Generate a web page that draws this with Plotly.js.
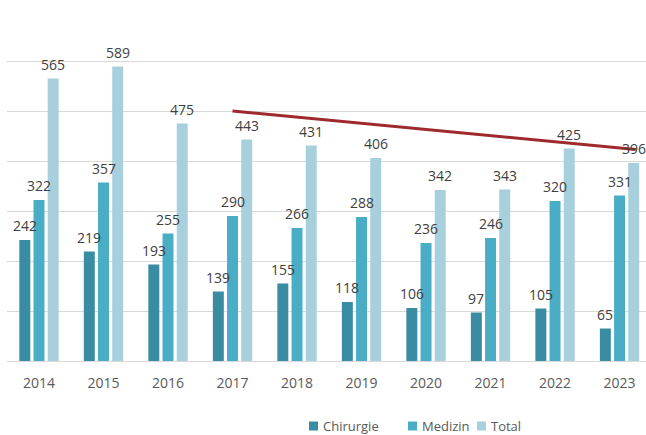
<!DOCTYPE html>
<html>
<head>
<meta charset="utf-8">
<script src="https://cdn.plot.ly/plotly-3.0.1.min.js"></script>
<style>html,body{margin:0;padding:0;background:#fff;}#chart{width:646px;height:435px;}</style>
</head>
<body>
<div id="chart"></div>
<script>
const years = ["2014","2015","2016","2017","2018","2019","2020","2021","2022","2023"];
const chirurgie = [242, 219, 193, 139, 155, 118, 106, 97, 105, 65];
const medizin = [322, 357, 255, 290, 266, 288, 236, 246, 320, 331];
const total = [565, 589, 475, 443, 431, 406, 342, 343, 425, 396];
const seriesNames = ["Chirurgie", "Medizin", "Total"];
const seriesColors = ["#3A8CA3", "#4AADC6", "#A8CFDC"];
// trendline endpoints
const trendX = [3, 9.25];
const trendY = [500, 423];

const idx = years.map((_, i) => i);
const seriesValues = [chirurgie, medizin, total];
const offsets = [-0.305, -0.085, 0.135];
const barW = 0.17;

const M = {l: 7, r: 0, t: 11, b: 74};
const W = 646, H = 435;
const pw = W - M.l - M.r, ph = H - M.t - M.b;
const px2x = p => (p - M.l) / pw;
const px2y = p => (H - M.b - p) / ph;

const traces = seriesValues.map((vals, k) => ({
  type: 'bar',
  name: seriesNames[k],
  x: idx,
  y: vals,
  width: barW,
  offset: offsets[k],
  marker: {color: seriesColors[k], line: {width: 0}},
  hoverinfo: 'x+y'
}));

traces.push({
  type: 'scatter',
  mode: 'lines',
  x: trendX,
  y: trendY,
  line: {color: '#9E2A2E', width: 3},
  showlegend: false,
  hoverinfo: 'skip',
  cliponaxis: false
});

const labelAnns = [];
seriesValues.forEach((vals, k) => {
  vals.forEach((v, i) => {
    labelAnns.push({
      xref: 'x', yref: 'y',
      x: idx[i] + offsets[k] + barW / 2,
      y: v,
      yanchor: 'bottom', xanchor: 'center',
      yshift: 3,
      text: String(v),
      showarrow: false,
      font: {family: 'Open Sans, sans-serif', size: 14, color: '#404040'}
    });
  });
});

// custom legend (positions in pixels)
const legendSquareX = [309, 408, 477];
const legendY = 426;
const sq = 9;
const legendShapes = seriesNames.map((n, k) => ({
  type: 'rect', xref: 'paper', yref: 'paper',
  x0: px2x(legendSquareX[k]), x1: px2x(legendSquareX[k] + sq),
  y0: px2y(legendY + sq / 2), y1: px2y(legendY - sq / 2),
  fillcolor: seriesColors[k], line: {width: 0}
}));
const legendAnns = seriesNames.map((n, k) => ({
  xref: 'paper', yref: 'paper',
  x: px2x(legendSquareX[k] + sq + 3), y: px2y(legendY),
  xanchor: 'left', yanchor: 'middle',
  text: n, showarrow: false,
  font: {family: 'Open Sans, sans-serif', size: 13, color: '#595959'}
}));

const layout = {
  width: W, height: H,
  margin: M,
  paper_bgcolor: '#ffffff', plot_bgcolor: '#ffffff',
  barmode: 'group',
  showlegend: false,
  font: {family: 'Open Sans, sans-serif', size: 14, color: '#595959'},
  xaxis: {
    type: 'linear',
    range: [-0.496, 9.41],
    tickvals: idx,
    ticktext: years,
    showgrid: false,
    zeroline: false,
    showline: false,
    ticks: '',
    ticklabelstandoff: 12,
    tickfont: {size: 14, color: '#595959'},
    fixedrange: true
  },
  yaxis: {
    range: [0, 700],
    dtick: 100,
    showticklabels: false,
    showgrid: true,
    gridcolor: '#D9D9D9',
    gridwidth: 1,
    zeroline: true,
    zerolinecolor: '#D9D9D9',
    zerolinewidth: 1,
    showline: false,
    ticks: '',
    fixedrange: true
  },
  shapes: legendShapes,
  annotations: labelAnns.concat(legendAnns)
};

Plotly.newPlot('chart', traces, layout, {displayModeBar: false, staticPlot: true});
</script>
</body>
</html>
